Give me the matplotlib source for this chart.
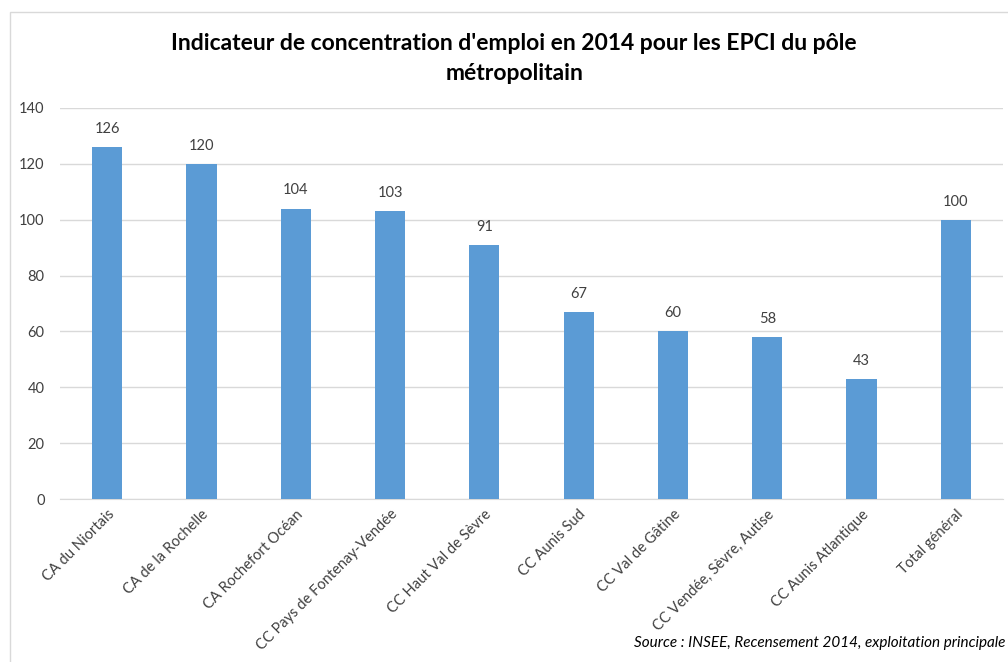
import matplotlib.pyplot as plt
from matplotlib.patches import Rectangle
import numpy as np

plt.rcParams['font.family'] = ['Lato', 'DejaVu Sans']

# Données
epci = ["CA du Niortais", "CA de la Rochelle", "CA Rochefort Océan",
        "CC Pays de Fontenay-Vendée", "CC Haut Val de Sèvre", "CC Aunis Sud",
        "CC Val de Gâtine", "CC Vendée, Sèvre, Autise", "CC Aunis Atlantique",
        "Total général"]
indicateur = [126, 120, 104, 103, 91, 67, 60, 58, 43, 100]
y_ticks = [0, 20, 40, 60, 80, 100, 120, 140]

fig = plt.figure(figsize=(10.08, 6.62), dpi=100)
ax = fig.add_axes([0.0595, 0.2462, 0.9355, 0.5907])

# cadre du graphique
fig.patches.append(Rectangle((10 / 1008, -0.1), 1.2, 1.1 - 12 / 662,
                             transform=fig.transFigure, fill=False,
                             edgecolor="#D9D9D9", linewidth=1))

x = np.arange(len(epci))
ax.bar(x, indicateur, width=0.32, color="#5B9BD5", zorder=3)

for xi, v in zip(x, indicateur):
    ax.text(xi, v + 4, str(v), ha="center", va="bottom", fontsize=10.5, color="#404040")

ax.set_xlim(-0.5, len(epci) - 0.5)
ax.set_ylim(0, 140)
ax.set_yticks(y_ticks)
ax.yaxis.grid(True, color="#D9D9D9", linewidth=1, zorder=0)
ax.tick_params(axis="y", length=0, labelsize=10.5, labelcolor="#404040", pad=11)
ax.tick_params(axis="x", length=0, labelsize=10.5, labelcolor="#404040", pad=6)
ax.set_xticks(x)
ax.set_xticklabels(epci, rotation=45, ha="right", rotation_mode="anchor")

for s in ["top", "right", "left"]:
    ax.spines[s].set_visible(False)
ax.spines["bottom"].set_color("#D9D9D9")

fig.text(0.51, 1 - 43 / 662, "Indicateur de concentration d'emploi en 2014 pour les EPCI du pôle",
         ha="center", va="center", fontsize=16.5, fontweight="bold", color="#000000")
fig.text(0.51, 1 - 73 / 662, "métropolitain",
         ha="center", va="center", fontsize=16.5, fontweight="bold", color="#000000")

fig.text(1005 / 1008, 1 - 643 / 662, "Source : INSEE, Recensement 2014, exploitation principale",
         ha="right", va="center", fontsize=11, style="italic", color="#000000")

fig.savefig("out.png", dpi=100)
